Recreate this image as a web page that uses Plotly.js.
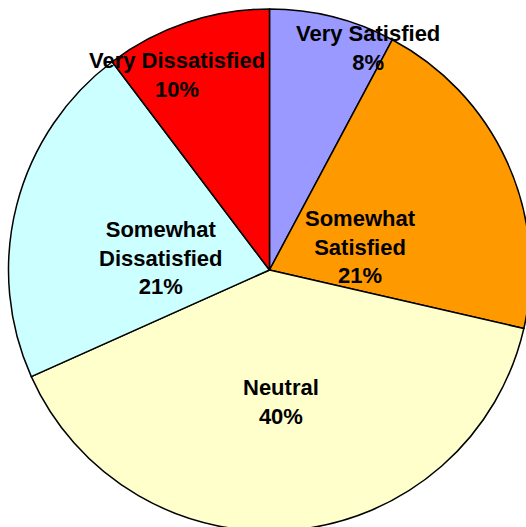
<!DOCTYPE html>
<html>
<head>
<meta charset="utf-8">
<script src="https://cdn.plot.ly/plotly-3.0.1.min.js"></script>
<style>
html, body { margin: 0; padding: 0; overflow: hidden; background: #fff; width: 526px; height: 527px; }
#chart { width: 540px; height: 540px; }
</style>
</head>
<body>
<div id="chart"></div>
<script>
const categories = ["Very Satisfied", "Somewhat Satisfied", "Neutral", "Somewhat Dissatisfied", "Very Dissatisfied"];
const values = [7.8, 20.8, 39.7, 21.4, 10.3];
const colors = ["#9999FF", "#FF9900", "#FFFFCC", "#CCFFFF", "#FF0000"];
const labelLines = [["Very Satisfied"], ["Somewhat", "Satisfied"], ["Neutral"], ["Somewhat", "Dissatisfied"], ["Very Dissatisfied"]];
// label placement (pixel positions within the 540x540 layout)
const labelPos = [[368, 48], [360, 247], [281, 402], [161, 258], [177, 75]];

const W = 540, H = 540;
const cx = 269.5, cy = 270, R = 261;
const total = values.reduce((a, b) => a + b, 0);

const annotations = categories.map((c, i) => {
  const pct = Math.round(values[i] / total * 100) + "%";
  const txt = labelLines[i].concat([pct]).map(s => "<b>" + s + "</b>").join("<br>");
  return {
    xref: "paper", yref: "paper",
    x: labelPos[i][0] / W, y: 1 - labelPos[i][1] / H,
    xanchor: "center", yanchor: "middle",
    text: txt, showarrow: false,
    font: { family: "Liberation Sans, Arial, sans-serif", size: 22, color: "#000" }
  };
});

const trace = {
  type: "pie",
  labels: categories,
  values: values,
  sort: false,
  direction: "clockwise",
  rotation: 0,
  textinfo: "none",
  hoverinfo: "none",
  marker: { colors: colors, line: { color: "#000", width: 1.5 } },
  domain: { x: [(cx - R) / W, (cx + R) / W], y: [(H - cy - R) / H, (H - cy + R) / H] }
};

const layout = {
  width: W, height: H,
  margin: { l: 0, r: 0, t: 0, b: 0, pad: 0 },
  showlegend: false,
  paper_bgcolor: "#fff",
  annotations: annotations
};

Plotly.newPlot("chart", [trace], layout, { staticPlot: true, displayModeBar: false });
</script>
</body>
</html>
